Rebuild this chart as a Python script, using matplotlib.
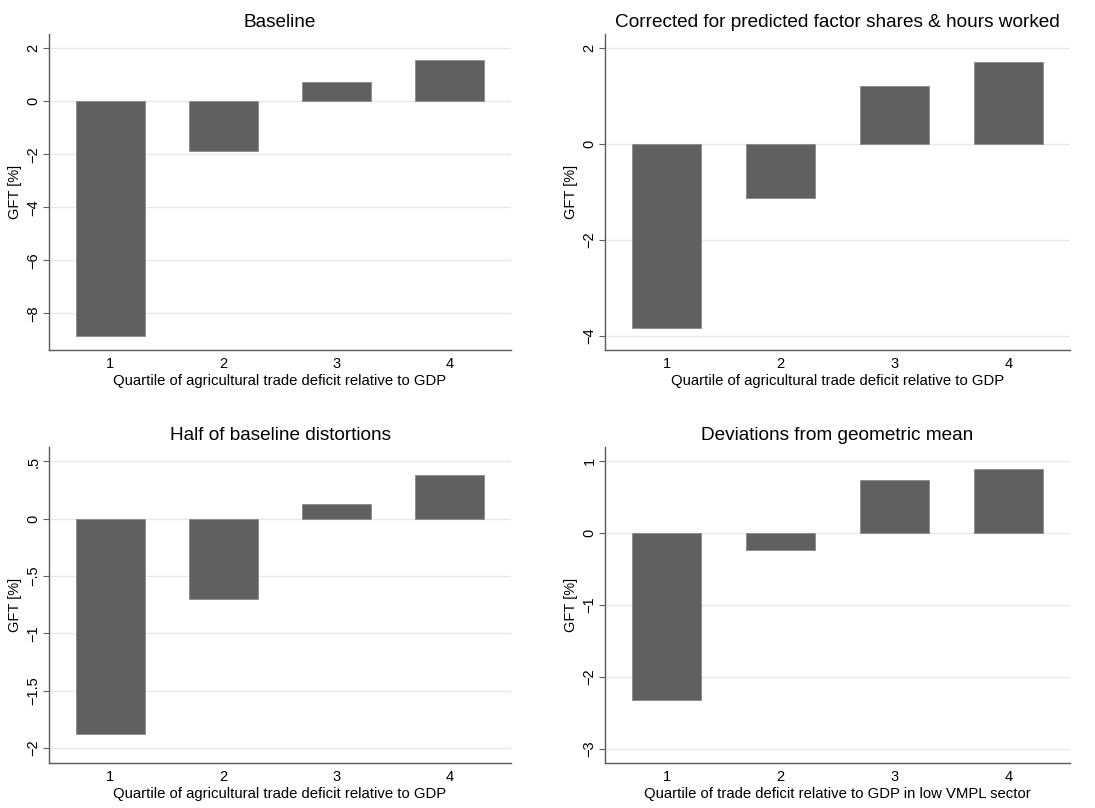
import matplotlib.pyplot as plt
import numpy as np

plt.rc('font', family=['Liberation Sans', 'DejaVu Sans'])

#------------------------------------------------------------------------------#

quartiles = [1, 2, 3, 4]

baseline = [-8.85, -1.86, 0.73, 1.55]
corrected = [-3.84, -1.12, 1.21, 1.71]
half_distortions = [-1.875, -0.70, 0.128, 0.38]
geo_mean = [-2.32, -0.233, 0.74, 0.90]

titles = ["Baseline",
          "Corrected for predicted factor shares & hours worked",
          "Half of baseline distortions",
          "Deviations from geometric mean"]

xlabels = ["Quartile of agricultural trade deficit relative to GDP",
           "Quartile of agricultural trade deficit relative to GDP",
           "Quartile of agricultural trade deficit relative to GDP",
           "Quartile of trade deficit relative to GDP in low VMPL sector"]

yticks = [[2, 0, -2, -4, -6, -8],
          [2, 0, -2, -4],
          [0.5, 0, -0.5, -1, -1.5, -2],
          [1, 0, -1, -2, -3]]

ylims = [(-9.38, 2.54), (-4.30, 2.29), (-2.13, 0.626), (-3.2, 1.2)]

#------------------------------------------------------------------------------#

def stata_label(v):
    # stata style: no leading zero, true minus sign
    s = ('%g' % abs(v))
    if s.startswith('0.'):
        s = s[1:]
    if v < 0:
        s = '\u2212' + s
    return s

#------------------------------------------------------------------------------#

def plot_panel(ax, values, title, xlabel, ticks, ylim):

    ax.bar(quartiles, values, width=0.61, color='#606060',
           edgecolor='#8a8a8a', linewidth=0.6, zorder=2)
    ax.set_title(title, fontsize=13.7, pad=5)
    ax.set_xlabel(xlabel, fontsize=10.7, labelpad=2)
    ax.set_ylabel('GFT [%]', fontsize=10.5, labelpad=3)

    ax.set_xlim(0.46, 4.54)
    ax.set_ylim(*ylim)
    ax.set_xticks(quartiles)
    ax.set_yticks(ticks)
    ax.set_yticklabels([stata_label(t) for t in ticks], rotation=90, va='center')
    ax.tick_params(axis='x', length=0, labelsize=10.5, pad=5)
    ax.tick_params(axis='y', length=4, width=0.8, color='#606060',
                   labelsize=10.5, pad=2)

    ax.grid(True, axis='y', color='#e8e8e8', linewidth=1.0, zorder=0)
    ax.set_axisbelow(True)
    for side in ['top', 'right']:
        ax.spines[side].set_visible(False)
    for side in ['left', 'bottom']:
        ax.spines[side].set_color('#5a5a5a')
        ax.spines[side].set_linewidth(1.0)

#------------------------------------------------------------------------------#

def main():

    fig = plt.figure(figsize=(10.95, 8.08), dpi=100)
    W, H = 1095.0, 808.0

    # axes boxes in pixels: left, right, top, bottom
    boxes = [(49, 511, 34, 350),
             (605, 1070, 34, 350),
             (49, 511, 447, 763),
             (605, 1070, 447, 763)]

    series = [baseline, corrected, half_distortions, geo_mean]

    for i, (l, r, t, b) in enumerate(boxes):
        ax = fig.add_axes([l / W, 1 - b / H, (r - l) / W, (b - t) / H])
        plot_panel(ax, series[i], titles[i], xlabels[i], yticks[i], ylims[i])

    fig.savefig('out.png', dpi=100)

#------------------------------------------------------------------------------#

if __name__ == "__main__":
    main()
